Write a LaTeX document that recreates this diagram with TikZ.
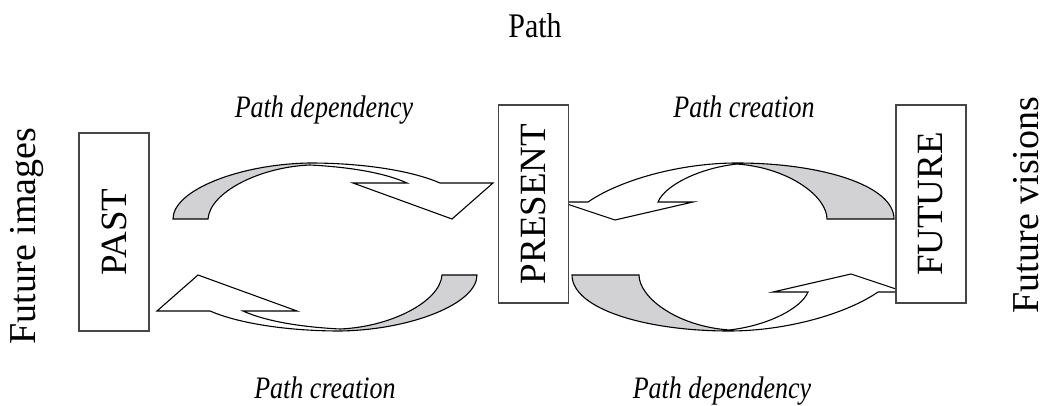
\documentclass[tikz,border=0pt]{standalone}
\usepackage{fontspec}
\setmainfont{Liberation Serif}
\usepackage{graphicx}
\definecolor{ribbon}{RGB}{210,210,212}
\definecolor{boxline}{RGB}{70,70,70}
\tikzset{
  ribbonline/.style={draw=black, line width=1.1pt, line join=miter},
  pastloop/.pic={
    \fill[ribbon] (173,219) .. controls (173,190) and (240,164) .. (310,163)
      -- (310,165) .. controls (260,167) and (210,192) .. (208,219) -- cycle;
    \draw[ribbonline] (173,219) .. controls (173,190) and (240,164) .. (310,163)
      .. controls (360,163) and (410,170) .. (440,183) -- (493,183) -- (452,219)
      -- (353,183) -- (407,183) .. controls (385,173) and (350,167) .. (310,165)
      .. controls (260,167) and (210,192) .. (208,219) -- cycle;
  },
  futureloop/.pic={
    \fill[ribbon] (894,219) .. controls (894,185) and (820,163) .. (737,163)
      -- (737,164) .. controls (790,168) and (827,197) .. (827,219) -- cycle;
    \draw[ribbonline] (894,219) .. controls (894,185) and (820,163) .. (737,163)
      .. controls (680,163) and (620,180) .. (588,202) -- (561,202) -- (615,220)
      -- (693,202) -- (658,202) .. controls (665,185) and (700,168) .. (737,164)
      .. controls (790,168) and (827,197) .. (827,219) -- cycle;
  }
}
\begin{document}
\begin{tikzpicture}[x=1pt,y=-1pt,
  stagebox/.style={draw=boxline, line width=1.4pt, fill=white, rotate=90,
    minimum width=198pt, minimum height=70pt, inner sep=0pt,
    font=\fontsize{37}{40}\selectfont},
  flowlabel/.style={font=\fontsize{26}{30}\selectfont\itshape, anchor=base, inner sep=0pt},
  sidelabel/.style={font=\fontsize{38}{42}\selectfont, rotate=90, anchor=base, inner sep=0pt},
  toplabel/.style={font=\fontsize{30}{34}\selectfont, anchor=base, inner sep=0pt}]
\useasboundingbox[fill=white] (0,0) rectangle (1046,406);

% ribbons
\pic at (0,0) {pastloop};
\pic[rotate=180] at (650,494) {pastloop};
\pic at (0,0) {futureloop};
\pic[rotate=180] at (1466,494) {futureloop};

% boxes
\node[stagebox] (past) at (114,232) {PAST};
\node[stagebox] (present) at (533.5,204) {PRESENT};
\node[stagebox] (future) at (931,204) {FUTURE};

% labels
\node[toplabel] (path) at (535,38) {\scalebox{1}[1.15]{Path}};
\node[flowlabel] (pd1) at (324,118) {\scalebox{1}[1.2]{Path dependency}};
\node[flowlabel] (pc1) at (744,118) {\scalebox{1}[1.2]{Path creation}};
\node[flowlabel] (pc2) at (325,398) {\scalebox{1}[1.2]{Path creation}};
\node[flowlabel] (pd2) at (722,398) {\scalebox{1}[1.2]{Path dependency}};
\node[sidelabel] (fi) at (35,236) {Future images};
\node[sidelabel] (fv) at (1038,205) {Future visions};
\end{tikzpicture}
\end{document}
